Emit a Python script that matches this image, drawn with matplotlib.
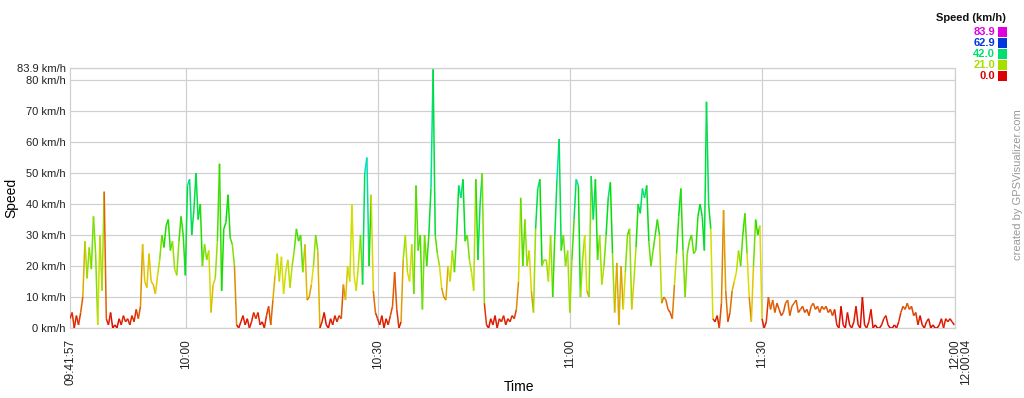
import colorsys

import numpy as np
import pandas as pd
import matplotlib.pyplot as plt
from matplotlib.collections import LineCollection
from matplotlib.patches import Rectangle
from matplotlib.transforms import ScaledTranslation

plt.rcParams['font.family'] = ['Liberation Sans', 'DejaVu Sans']

# speed samples (km/h), one every 20 s starting at 09:41:57
step_seconds = 20
speed_0942_1000 = [3, 5, 0, 4, 1, 5, 10, 28, 16, 26, 19, 36, 24, 1, 30, 12, 44, 3, 1, 5,
                   0, 1, 0, 3, 1, 4, 2, 3, 1, 4, 2, 6, 3, 7, 27, 15, 13, 24, 15, 14,
                   11, 17, 22, 30, 26, 33, 35, 25, 28, 19, 17, 28, 36, 30, 17, 46]
speed_1000_1019 = [48, 30, 38, 50, 35, 40, 20, 27, 22, 25, 5, 14, 16, 28, 53, 12, 32, 34, 43, 29,
                   27, 20, 1, 0, 2, 4, 1, 3, 0, 2, 5, 3, 5, 1, 2, 0, 4, 7, 1, 9,
                   17, 24, 15, 23, 11, 18, 22, 13, 20, 25, 32, 28, 30, 18, 27, 9]
speed_1019_1037 = [10, 14, 20, 30, 25, 0, 2, 5, 1, 0, 3, 1, 4, 2, 4, 3, 14, 9, 20, 15,
                   40, 17, 12, 20, 30, 14, 50, 55, 20, 43, 12, 5, 3, 1, 4, 0, 3, 1, 4, 7,
                   18, 6, 0, 2, 22, 30, 18, 15, 27, 11, 46, 25, 30, 6, 30]
speed_1037_1056 = [20, 30, 45, 83.5, 30, 24, 20, 13, 10, 9, 20, 15, 25, 18, 30, 46, 42, 48, 28, 30,
                   22, 18, 12, 48, 22, 40, 50, 8, 1, 0, 3, 1, 4, 0, 3, 2, 4, 1, 3, 2,
                   4, 3, 6, 15, 42, 20, 35, 20, 25, 12, 5, 32, 45, 48, 20, 22]
speed_1056_1114 = [22, 15, 30, 10, 30, 48, 61, 25, 30, 20, 25, 5, 22, 35, 48, 46, 10, 22, 30, 12,
                   10, 49, 35, 48, 22, 30, 14, 20, 30, 42, 47, 24, 5, 21, 1, 20, 6, 18, 30, 32,
                   6, 15, 26, 40, 37, 45, 42, 46, 28, 20, 25, 30, 35, 30, 8]
speed_1114_1133 = [10, 9, 6, 5, 3, 14, 24, 36, 45, 25, 10, 24, 28, 30, 24, 25, 36, 40, 36, 25,
                   73, 40, 32, 3, 2, 4, 0, 8, 38, 12, 2, 5, 12, 15, 18, 25, 20, 30, 37, 24,
                   10, 2, 20, 35, 30, 33, 3, 0, 2, 10, 6, 9, 5, 8, 6, 4]
speed_1133_1200 = [5, 8, 9, 4, 7, 8, 9, 5, 6, 7, 5, 6, 4, 7, 8, 6, 7, 5, 7, 6,
                   7, 5, 6, 4, 6, 1, 0, 7, 1, 0, 5, 1, 0, 2, 7, 1, 0, 10, 1, 0,
                   2, 6, 0, 1, 0, 0, 1, 3, 4, 1, 0, 0, 1, 0, 2, 5, 7, 6, 8, 6,
                   7, 4, 5, 1, 4, 1, 0, 2, 3, 0, 1, 0, 0, 1, 3, 0, 3, 2, 3, 2, 1]

# time axis, seconds after 09:41:57
duration = 8287
tick_seconds = [0, 1083, 2883, 4683, 6483, 8283, 8287]
tick_labels = ['09:41:57', '10:00', '10:30', '11:00', '11:30', '12:00', '12:00:04']
y_ticks = [0, 10, 20, 30, 40, 50, 60, 70, 80, 83.9]
legend_values = [83.9, 62.9, 42.0, 21.0, 0.0]
vmax = 83.9


def speed_color(v):
    h = min(max(v / vmax, 0.0), 1.0) * 300 / 360
    return colorsys.hsv_to_rgb(h, 1.0, 0.87)


speed = np.array(speed_0942_1000 + speed_1000_1019 + speed_1019_1037 + speed_1037_1056
                 + speed_1056_1114 + speed_1114_1133 + speed_1133_1200, dtype=float)
t = np.arange(len(speed)) * step_seconds

# colour follows a 3-point median so single GPS spikes keep the local colour
color_speed = pd.Series(speed).rolling(3, center=True, min_periods=1).median().to_numpy()

fig = plt.figure(figsize=(10.24, 3.98), dpi=100)
ax = fig.add_axes([70 / 1024, 70 / 398, 885 / 1024, 260 / 398])

pts = np.column_stack([t, speed])
segs = np.stack([pts[:-1], pts[1:]], axis=1)
colors = [speed_color((a + b) / 2) for a, b in zip(color_speed[:-1], color_speed[1:])]
ax.add_collection(LineCollection(segs, colors=colors, linewidths=1.1, zorder=3))

ax.set_xlim(0, duration)
ax.set_ylim(0, vmax)

ax.set_yticks(y_ticks)
ax.set_yticklabels([f'{v:g} km/h' for v in y_ticks], fontsize=8, color='#222222')
ax.set_xticks(tick_seconds)
ax.set_xticklabels(tick_labels, rotation=90, fontsize=8.5, color='#222222', va='top')
ax.tick_params(axis='both', length=0)
ax.tick_params(axis='x', pad=8)
ax.tick_params(axis='y', pad=3)

# shift the end label so it sits beside 12:00
end_lab = ax.get_xticklabels()[-1]
end_lab.set_transform(end_lab.get_transform() + ScaledTranslation(11 / 100, 0, fig.dpi_scale_trans))

for v in y_ticks:
    ax.axhline(v, color='#d0d0d0', lw=0.9, zorder=1)
for s in tick_seconds[1:-1]:
    ax.axvline(s, color='#d0d0d0', lw=0.9, zorder=1)
for sp in ax.spines.values():
    sp.set_color('#d0d0d0')
    sp.set_linewidth(0.9)

ax.set_ylabel('Speed', fontsize=10)
ax.yaxis.set_label_coords(-52 / 885, 0.5)
ax.set_xlabel('Time', fontsize=10)
ax.xaxis.set_label_coords(0.507, -52 / 260)

# colour key at the top right
fig.text(1006 / 1024, 1 - 18 / 398, 'Speed (km/h)', ha='right', va='center',
         fontsize=8, fontweight='bold', color='#111111')
for k, v in enumerate(legend_values):
    y = 32 + k * 11
    c = speed_color(v)
    fig.text(995 / 1024, 1 - y / 398, f'{v:.1f}', ha='right', va='center',
             fontsize=8, fontweight='bold', color=c)
    fig.patches.append(Rectangle((998 / 1024, 1 - (y + 4.5) / 398), 9 / 1024, 9 / 398,
                                 transform=fig.transFigure, facecolor=c, edgecolor='none'))

fig.text(1018 / 1024, 1 - 185 / 398, 'created by GPSVisualizer.com', rotation=90,
         ha='center', va='center', fontsize=8, color='#999999')

fig.savefig('out.png', dpi=100)
